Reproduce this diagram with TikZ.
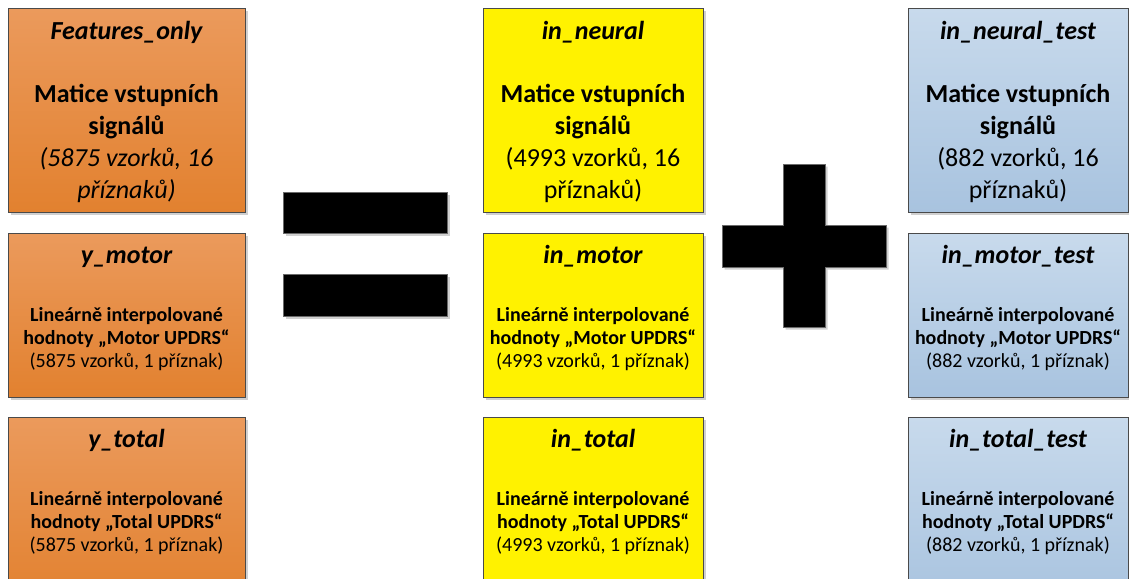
\documentclass[tikz,border=0pt]{standalone}
\usepackage{fontspec}
\setmainfont{Carlito}
\usetikzlibrary{shadows}

\definecolor{orangeTop}{HTML}{EB9A5C}
\definecolor{orangeBot}{HTML}{E2812F}
\definecolor{blueTop}{HTML}{C8DAEC}
\definecolor{blueBot}{HTML}{A8C3DF}
\definecolor{boxline}{HTML}{4A4A4A}
\definecolor{symline}{HTML}{6A6A6A}

\tikzset{
  box/.style={draw=boxline, line width=0.9pt, anchor=north west, inner sep=0pt,
    drop shadow={shadow xshift=2.5pt, shadow yshift=-2.5pt, opacity=0.3, fill=black!60}},
  orangebox/.style={box, top color=orangeTop, bottom color=orangeBot},
  yellowbox/.style={box, fill=yellow},
  bluebox/.style={box, top color=blueTop, bottom color=blueBot},
  wide/.style={minimum width=237pt},
  narrow/.style={minimum width=220pt},
  tall/.style={minimum height=204pt},
  mid/.style={minimum height=164pt},
  low/.style={minimum height=185pt},
  sym/.style={fill=black, draw=symline, line width=0.8pt,
    drop shadow={shadow xshift=2.5pt, shadow yshift=-2.5pt, opacity=0.3, fill=black!60}},
  ttl/.style={anchor=base, inner sep=0pt, font=\fontsize{26}{31}\selectfont\bfseries\itshape},
  bigb/.style={anchor=base, inner sep=0pt, font=\fontsize{26}{31}\selectfont\bfseries},
  bigr/.style={anchor=base, inner sep=0pt, font=\fontsize{26}{31}\selectfont},
  bigi/.style={anchor=base, inner sep=0pt, font=\fontsize{26}{31}\selectfont\itshape},
  smb/.style={anchor=base, inner sep=0pt, font=\fontsize{20}{23}\selectfont\bfseries},
  smr/.style={anchor=base, inner sep=0pt, font=\fontsize{20}{23}\selectfont},
}

\begin{document}
\begin{tikzpicture}[x=1pt, y=-1pt]
  \clip (0,0) rectangle (1129,578);
  \fill[white] (0,0) rectangle (1129,578);

  % ---- left column: full data set ----
  \node[orangebox, wide, tall] (fo)   at (8,8)   {};
  \node[orangebox, wide, mid]  (ym)   at (8,233) {};
  \node[orangebox, wide, low]  (yt)   at (8,417) {};

  % ---- middle column: training part ----
  \node[yellowbox, narrow, tall] (inn) at (483,8)   {};
  \node[yellowbox, narrow, mid]  (inm) at (483,233) {};
  \node[yellowbox, narrow, low]  (intt) at (483,417) {};

  % ---- right column: test part ----
  \node[bluebox, narrow, tall] (tnn) at (908,8)   {};
  \node[bluebox, narrow, mid]  (tnm) at (908,233) {};
  \node[bluebox, narrow, low]  (tnt) at (908,417) {};

  % ---- equals sign ----
  \draw[sym] (283,192) rectangle (447,233);
  \draw[sym] (283,274) rectangle (447,316);

  % ---- plus sign ----
  \draw[sym] (783,164) -- (825,164) -- (825,225) -- (886,225) -- (886,267)
    -- (825,267) -- (825,327) -- (783,327) -- (783,267) -- (722,267)
    -- (722,225) -- (783,225) -- cycle;

  % ---- texts, left column ----
  \node[ttl]  (fo-t)  at (126.5,40)  {Features\_only};
  \node[bigb] (fo-1)  at (126.5,102) {Matice vstupních};
  \node[bigb] (fo-2)  at (126.5,134) {signálů};
  \node[bigi] (fo-3)  at (126.5,166) {(5875 vzorků, 16};
  \node[bigi] (fo-4)  at (126.5,198) {příznaků)};

  \node[ttl]  (ym-t)  at (126.5,263) {y\_motor};
  \node[smb]  (ym-1)  at (126.5,321) {Lineárně interpolované};
  \node[smb]  (ym-2)  at (126.5,344) {hodnoty „Motor UPDRS“};
  \node[smr]  (ym-3)  at (126.5,367) {(5875 vzorků, 1 příznak)};

  \node[ttl]  (yt-t)  at (126.5,447) {y\_total};
  \node[smb]  (yt-1)  at (126.5,505) {Lineárně interpolované};
  \node[smb]  (yt-2)  at (126.5,528) {hodnoty „Total UPDRS“};
  \node[smr]  (yt-3)  at (126.5,551) {(5875 vzorků, 1 příznak)};

  % ---- texts, middle column ----
  \node[ttl]  (inn-t) at (593,40)  {in\_neural};
  \node[bigb] (inn-1) at (593,102) {Matice vstupních};
  \node[bigb] (inn-2) at (593,134) {signálů};
  \node[bigr] (inn-3) at (593,166) {(4993 vzorků, 16};
  \node[bigr] (inn-4) at (593,198) {příznaků)};

  \node[ttl]  (inm-t) at (593,263) {in\_motor};
  \node[smb]  (inm-1) at (593,321) {Lineárně interpolované};
  \node[smb]  (inm-2) at (593,344) {hodnoty „Motor UPDRS“};
  \node[smr]  (inm-3) at (593,367) {(4993 vzorků, 1 příznak)};

  \node[ttl]  (int-t) at (593,447) {in\_total};
  \node[smb]  (int-1) at (593,505) {Lineárně interpolované};
  \node[smb]  (int-2) at (593,528) {hodnoty „Total UPDRS“};
  \node[smr]  (int-3) at (593,551) {(4993 vzorků, 1 příznak)};

  % ---- texts, right column ----
  \node[ttl]  (tnn-t) at (1018,40)  {in\_neural\_test};
  \node[bigb] (tnn-1) at (1018,102) {Matice vstupních};
  \node[bigb] (tnn-2) at (1018,134) {signálů};
  \node[bigr] (tnn-3) at (1018,166) {(882 vzorků, 16};
  \node[bigr] (tnn-4) at (1018,198) {příznaků)};

  \node[ttl]  (tnm-t) at (1018,263) {in\_motor\_test};
  \node[smb]  (tnm-1) at (1018,321) {Lineárně interpolované};
  \node[smb]  (tnm-2) at (1018,344) {hodnoty „Motor UPDRS“};
  \node[smr]  (tnm-3) at (1018,367) {(882 vzorků, 1 příznak)};

  \node[ttl]  (tnt-t) at (1018,447) {in\_total\_test};
  \node[smb]  (tnt-1) at (1018,505) {Lineárně interpolované};
  \node[smb]  (tnt-2) at (1018,528) {hodnoty „Total UPDRS“};
  \node[smr]  (tnt-3) at (1018,551) {(882 vzorků, 1 příznak)};
\end{tikzpicture}
\end{document}
